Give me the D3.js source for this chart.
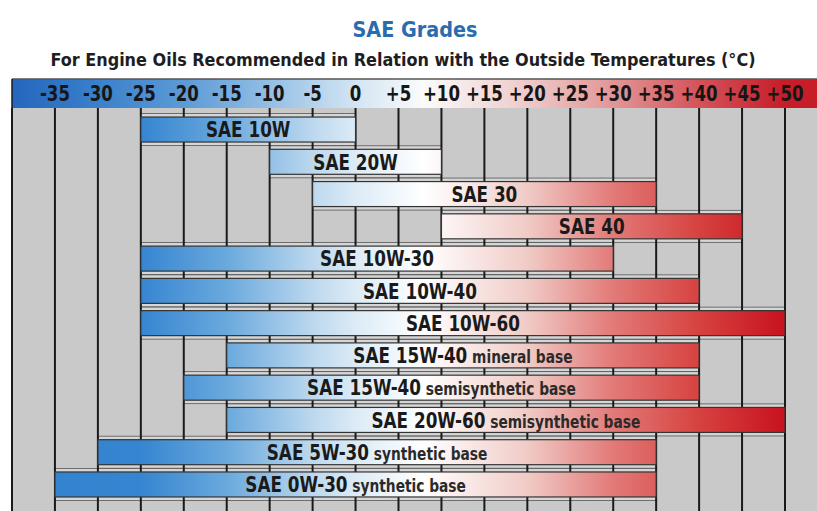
<!DOCTYPE html>
<html><head><meta charset="utf-8">
<script src="https://cdn.jsdelivr.net/npm/d3@7"></script>
<style>body{margin:0;background:#fff}svg{display:block}</style>
</head><body>
<svg id="chart" width="817" height="511"></svg>
<script>
// ---- data ----
const grades = ["SAE 10W","SAE 20W","SAE 30","SAE 40","SAE 10W-30","SAE 10W-40","SAE 10W-60",
  "SAE 15W-40","SAE 15W-40","SAE 20W-60","SAE 5W-30","SAE 0W-30"];
const gradeNotes = ["","","","","","","","mineral base","semisynthetic base","semisynthetic base",
  "synthetic base","synthetic base"];
const minTemps = [-25,-10,-5,10,-25,-25,-25,-15,-20,-15,-30,-35];
const maxTemps = [0,10,35,45,30,40,50,40,40,50,35,35];
const tickValues = [-35,-30,-25,-20,-15,-10,-5,0,5,10,15,20,25,30,35,40,45,50];
const tickLabels = ["-35","-30","-25","-20","-15","-10","-5","0","+5","+10","+15","+20","+25","+30","+35","+40","+45","+50"];
const titleText = "SAE Grades";
const subtitleText = "For Engine Oils Recommended in Relation with the Outside Temperatures (\u00B0C)";

// ---- layout ----
const W = 817, H = 511;
const FONT = "'DejaVu Sans Condensed','Liberation Sans',sans-serif";
const svg = d3.select("#chart");
const x = d3.scaleLinear().domain([-40, 50]).range([12, 785]);
const headerTop = 79, headerBot = 108;
const y = d3.scaleBand().domain(d3.range(grades.length))
  .range([113.4, 500.6]).paddingInner(0.225).paddingOuter(0.1125);

const defs = svg.append("defs");
function tempGradient(id, stops) {
  const g = defs.append("linearGradient").attr("id", id)
    .attr("gradientUnits", "userSpaceOnUse")
    .attr("x1", x(-40)).attr("x2", x(50)).attr("y1", 0).attr("y2", 0);
  stops.forEach(([t, c]) => g.append("stop")
    .attr("offset", (t + 40) / 90).attr("stop-color", c));
}
tempGradient("hdrGrad", [[-40,"#2466bd"],[-30,"#3a80cb"],[-20,"#5c9ad6"],[-10,"#94bfe5"],
  [0,"#d3e5f3"],[8,"#fbfbfb"],[20,"#efcaca"],[30,"#e29696"],[40,"#d4535a"],[50,"#c61d29"]]);
tempGradient("barGrad", [[-40,"#3382d0"],[-25,"#3685d1"],[-15,"#6aa9dd"],[-5,"#bcd8ee"],
  [0,"#dcebf6"],[8,"#ffffff"],[20,"#f0cbc6"],[30,"#e27a78"],[40,"#d6423f"],[50,"#c8121f"]]);

// title
svg.append("text").attr("x", 415).attr("y", 37).attr("text-anchor", "middle")
  .attr("font-family", FONT).attr("font-size", 22).attr("font-weight", "bold")
  .attr("fill", "#2b6cae").attr("textLength", 125).attr("lengthAdjust", "spacingAndGlyphs")
  .text(titleText);
svg.append("text").attr("x", 403).attr("y", 66).attr("text-anchor", "middle")
  .attr("font-family", FONT).attr("font-size", 17).attr("font-weight", "bold")
  .attr("fill", "#1e1e1e").attr("textLength", 705).attr("lengthAdjust", "spacingAndGlyphs")
  .text(subtitleText);

// plot background
svg.append("rect").attr("x", x(-40)).attr("y", headerBot).attr("width", W - x(-40))
  .attr("height", H - headerBot).attr("fill", "#c9c9c9");

// light strips around bars
svg.append("g").selectAll("rect").data(grades).join("rect")
  .attr("x", (d, i) => x(minTemps[i])).attr("width", (d, i) => x(maxTemps[i]) - x(minTemps[i]))
  .attr("y", (d, i) => y(i) - 3.5).attr("height", y.bandwidth() + 7)
  .attr("fill", "#d6d6d6").attr("stroke", "#555").attr("stroke-width", 0.8);

// vertical grid lines
svg.append("g").selectAll("line").data([-40].concat(tickValues)).join("line")
  .attr("x1", d => x(d)).attr("x2", d => x(d)).attr("y1", headerBot).attr("y2", H)
  .attr("stroke", "#1a1a1a").attr("stroke-width", 2);

// header band
svg.append("rect").attr("x", x(-40)).attr("y", headerTop).attr("width", W - x(-40))
  .attr("height", headerBot - headerTop).attr("fill", "url(#hdrGrad)");
svg.append("line").attr("x1", x(-40)).attr("x2", W).attr("y1", headerTop).attr("y2", headerTop)
  .attr("stroke", "#555").attr("stroke-width", 1.5);
svg.append("line").attr("x1", x(-40)).attr("x2", x(-40)).attr("y1", headerTop).attr("y2", headerBot)
  .attr("stroke", "#1a1a1a").attr("stroke-width", 1.5);

// tick labels in header
svg.append("g").selectAll("text").data(tickValues).join("text")
  .attr("transform", d => `translate(${x(d)},101) scale(0.9,1)`).attr("text-anchor", "middle")
  .attr("font-family", FONT).attr("font-size", 20.5).attr("font-weight", "bold")
  .attr("fill", "#161616").text((d, i) => tickLabels[i]);

// bars
svg.append("g").selectAll("rect").data(grades).join("rect")
  .attr("x", (d, i) => x(minTemps[i])).attr("width", (d, i) => x(maxTemps[i]) - x(minTemps[i]))
  .attr("y", (d, i) => y(i)).attr("height", y.bandwidth())
  .attr("fill", "url(#barGrad)").attr("stroke", "#333").attr("stroke-width", 1.2);

// bar labels
const labels = svg.append("g").selectAll("text").data(grades).join("text")
  .attr("transform", (d, i) =>
    `translate(${x((minTemps[i] + maxTemps[i]) / 2)},${y(i) + y.bandwidth() / 2 + 7.8}) scale(0.85,1)`)
  .attr("text-anchor", "middle").attr("font-family", FONT).attr("fill", "#1a1a1a");
labels.append("tspan").attr("font-size", 22).attr("font-weight", "bold").text(d => d);
labels.append("tspan").attr("font-size", 18).attr("font-weight", "bold").attr("fill", "#2a2a2a")
  .text((d, i) => gradeNotes[i] ? " " + gradeNotes[i] : "");
</script>
</body></html>
